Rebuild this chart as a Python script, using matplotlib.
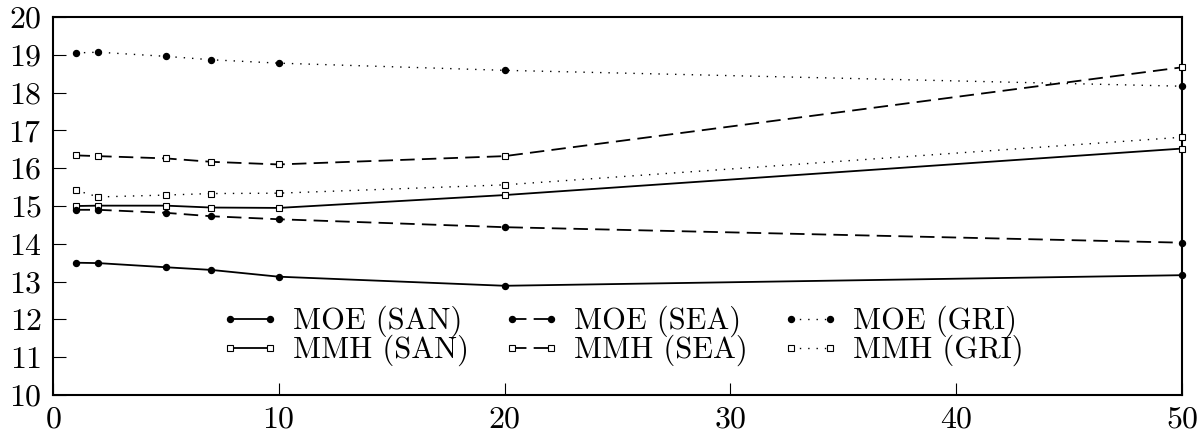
import matplotlib
matplotlib.use("Agg")
import matplotlib.pyplot as plt

x = [1, 2, 5, 7, 10, 20, 50]

moe_san = [13.50, 13.49, 13.38, 13.31, 13.13, 12.89, 13.17]
moe_sea = [14.90, 14.90, 14.82, 14.73, 14.65, 14.44, 14.03]
moe_gri = [19.05, 19.07, 18.96, 18.87, 18.78, 18.59, 18.17]
mmh_san = [15.00, 15.01, 15.01, 14.96, 14.95, 15.29, 16.52]
mmh_sea = [16.34, 16.32, 16.26, 16.17, 16.10, 16.32, 18.67]
mmh_gri = [15.42, 15.24, 15.29, 15.33, 15.34, 15.56, 16.82]

labels = ["MOE (SAN)", "MMH (SAN)", "MOE (SEA)", "MMH (SEA)", "MOE (GRI)", "MMH (GRI)"]

plt.rcParams['font.family'] = ['cmr10', 'DejaVu Sans']
plt.rcParams['mathtext.fontset'] = 'cm'
plt.rcParams['axes.formatter.use_mathtext'] = True

fig = plt.figure(figsize=(12.04, 4.37), dpi=100)
ax = fig.add_axes([0.044, 0.0961, 0.9817 - 0.044, 0.961 - 0.0961])

dashed = (0, (8, 4))
dotted = (0, (1, 5))

circ = dict(marker='o', markersize=4.3, markerfacecolor='black', markeredgecolor='black')
sq = dict(marker='s', markersize=4.0, markerfacecolor='white', markeredgecolor='black', markeredgewidth=0.8)

series = [
    (moe_san, '-', circ, 1.3),
    (mmh_san, '-', sq, 1.3),
    (moe_sea, dashed, circ, 1.3),
    (mmh_sea, dashed, sq, 1.3),
    (moe_gri, dotted, circ, 1.0),
    (mmh_gri, dotted, sq, 1.0),
]
for (vals, ls, mk, lw), lab in zip(series, labels):
    ax.plot(x, vals, linestyle=ls, color='black', linewidth=lw, label=lab, clip_on=False, zorder=3, **mk)

ax.set_xlim(0, 50)
ax.set_ylim(10, 20)
ax.set_xticks([0, 10, 20, 30, 40, 50])
ax.set_yticks(range(10, 21))
ax.tick_params(direction='in', length=9, width=0.8, labelsize=23)
ax.tick_params(axis='x', pad=8)
ax.tick_params(axis='y', pad=8)
for s in ax.spines.values():
    s.set_linewidth(1.5)

leg = fig.legend(loc='upper left', bbox_to_anchor=(221 / 1204, 1 - 306 / 437), ncol=3, frameon=False,
                 fontsize=22, handlelength=1.9, columnspacing=1.1, handletextpad=0.45,
                 labelspacing=-0.08, borderpad=0.0, borderaxespad=0.0, numpoints=2)

fig.savefig("out.png", dpi=100)
